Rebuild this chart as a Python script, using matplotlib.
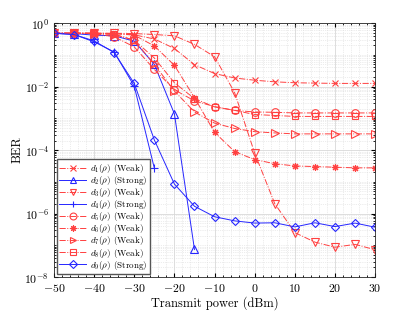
import numpy as np
import matplotlib
matplotlib.use('Agg')
import matplotlib.pyplot as plt
from matplotlib.ticker import FixedLocator, MultipleLocator, LogLocator, NullFormatter

plt.rcParams['font.family'] = 'serif'
plt.rcParams['font.serif'] = ['cmr10', 'DejaVu Serif']
plt.rcParams['mathtext.fontset'] = 'cm'
plt.rcParams['axes.unicode_minus'] = False
plt.rcParams['axes.formatter.use_mathtext'] = True

# transmit power (dBm)
power = [-50, -45, -40, -35, -30, -25, -20, -15, -10, -5, 0, 5, 10, 15, 20, 25, 30]

# log10(BER)
d1 = [-0.32, -0.32, -0.32, -0.33, -0.37, -0.50, -0.80, -1.31, -1.59, -1.73, -1.80, -1.85, -1.88, -1.89, -1.90, -1.90, -1.90]
d2 = [-0.32, -0.33, -0.38, -0.40, -0.57, -1.30, -2.86, -7.13]
d3 = [-0.32, -0.32, -0.32, -0.32, -0.33, -0.36, -0.40, -0.67, -1.06, -2.19, -4.10, -5.69, -6.60, -6.90, -7.06, -6.97, -7.14]
d4 = [-0.32, -0.36, -0.59, -0.91, -1.99, -4.57]
d5 = [-0.32, -0.32, -0.33, -0.43, -0.75, -1.46, -2.10, -2.45, -2.63, -2.75, -2.80, -2.81, -2.83, -2.83, -2.83, -2.83, -2.83]
d6 = [-0.32, -0.32, -0.32, -0.33, -0.38, -0.72, -1.33, -2.35, -3.44, -4.05, -4.30, -4.43, -4.50, -4.52, -4.54, -4.56, -4.56]
d7 = [-0.32, -0.32, -0.33, -0.36, -0.54, -1.30, -2.14, -2.80, -3.15, -3.32, -3.42, -3.46, -3.49, -3.49, -3.49, -3.49, -3.49]
d8 = [-0.32, -0.32, -0.32, -0.35, -0.54, -1.10, -1.88, -2.38, -2.64, -2.75, -2.88, -2.91, -2.94, -2.94, -2.94, -2.94, -2.94]
d9 = [-0.32, -0.36, -0.56, -0.93, -1.90, -3.68, -5.07, -5.77, -6.10, -6.23, -6.30, -6.29, -6.42, -6.29, -6.41, -6.30, -6.43]

series = [
    (d1, 'x', 'Weak', 'r'),
    (d2, '^', 'Strong', 'b'),
    (d3, 'v', 'Weak', 'r'),
    (d4, '+', 'Strong', 'b'),
    (d5, 'o', 'Weak', 'r'),
    (d6, (8, 2, 0), 'Weak', 'r'),
    (d7, '>', 'Weak', 'r'),
    (d8, 's', 'Weak', 'r'),
    (d9, 'D', 'Strong', 'b'),
]

fig = plt.figure(figsize=(4.15, 3.12), dpi=100)
ax = fig.add_axes([0.130, 0.112, 0.774, 0.814])

for i, (vals, mk, kind, col) in enumerate(series):
    x = power[:len(vals)]
    y = 10.0 ** np.array(vals)
    if col == 'r':
        color = (1.0, 0.25, 0.25)
        ls = '-.'
    else:
        color = (0.15, 0.15, 1.0)
        ls = '-'
    ms = 5.5
    if mk in ('D', 's', 'x'):
        ms = 4.5
    elif mk == (8, 2, 0):
        ms = 5
    ax.plot(x, y, linestyle=ls, marker=mk, color=color, lw=0.7, ms=ms,
            mfc='none', mew=0.8,
            label=r'$d_{%d}(\rho)$ (%s)' % (i + 1, kind))

ax.set_yscale('log')
ax.set_xlim(-50, 30)
ax.set_ylim(1e-8, 1)
ax.xaxis.set_major_locator(MultipleLocator(10))
ax.xaxis.set_minor_locator(MultipleLocator(2))
ax.yaxis.set_major_locator(FixedLocator([1e-8, 1e-6, 1e-4, 1e-2, 1e0]))
ax.yaxis.set_minor_locator(LogLocator(base=10, subs=np.arange(1, 10), numticks=20))
ax.yaxis.set_minor_formatter(NullFormatter())
ax.set_yticklabels([r'$10^{-8}$', r'$10^{-6}$', r'$10^{-4}$', r'$10^{-2}$', r'$10^{0}$'])

ax.grid(True, which='major', color='#d8d8d8', lw=0.6)
ax.grid(True, which='minor', color='#dadada', lw=0.5, ls=':')
ax.set_axisbelow(True)
ax.tick_params(which='both', direction='in', top=True, right=True, labelsize=8.5)
ax.tick_params(which='major', length=3)
ax.tick_params(which='minor', length=1.5)
for s in ax.spines.values():
    s.set_linewidth(0.6)
    s.set_color('#262626')

ax.set_xlabel('Transmit power (dBm)', fontsize=9, labelpad=2)
ax.set_ylabel('BER', fontsize=9, labelpad=1)

leg = ax.legend(loc='lower left', fontsize=6.5, handlelength=3.0, labelspacing=-0.1,
                borderpad=0.3, handletextpad=0.35, fancybox=False, framealpha=1,
                borderaxespad=0.3, markerscale=0.9)
leg.get_frame().set_edgecolor('#555555')
leg.get_frame().set_linewidth(1.0)

fig.savefig('out.png', dpi=100)
